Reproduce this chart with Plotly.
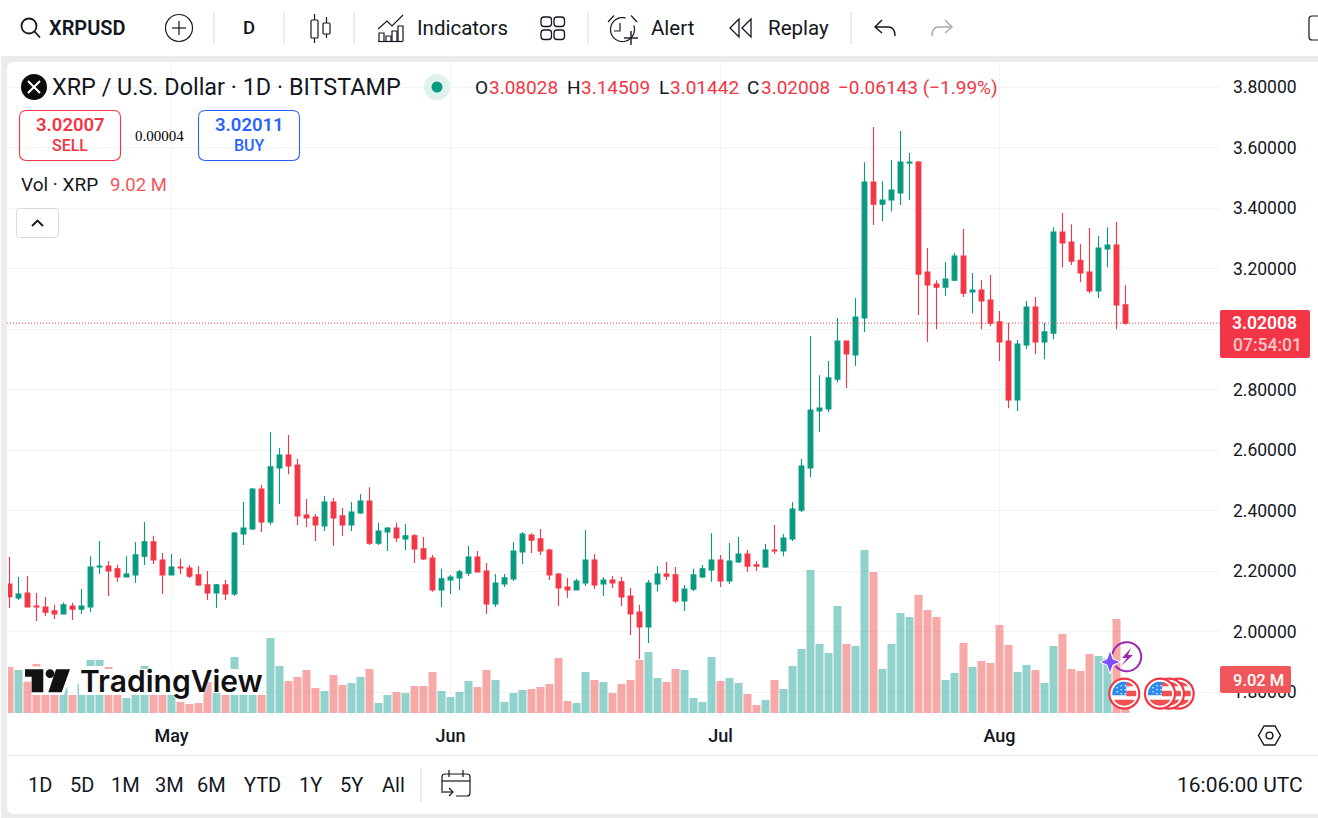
import math
import pandas as pd
import plotly.graph_objects as go

W, H = 1318, 818

first_day = "2025-04-13"
opens = [2.158,2.112,2.128,2.085,2.082,2.069,2.059,2.085,2.075,2.082,2.214,2.217,2.208,2.181,2.188,2.250,2.297,2.237,2.188,2.214,
 2.211,2.188,2.155,2.128,2.155,2.125,2.323,2.340,2.472,2.363,2.541,2.584,2.551,2.386,2.379,2.350,2.429,2.383,2.353,2.393,
 2.432,2.293,2.330,2.343,2.307,2.317,2.274,2.244,2.138,2.171,2.178,2.194,2.247,2.201,2.092,2.158,2.175,2.264,2.320,2.307,
 2.270,2.191,2.148,2.138,2.161,2.237,2.158,2.171,2.165,2.118,2.065,2.016,2.158,2.191,2.188,2.102,2.141,2.181,2.204,2.237,
 2.168,2.231,2.257,2.221,2.214,2.270,2.267,2.307,2.402,2.541,2.730,2.736,2.835,2.961,2.915,3.037,3.486,3.413,3.427,3.450,
 3.549,3.552,3.189,3.149,3.139,3.162,3.242,3.123,3.129,3.096,3.024,2.961,2.766,2.948,3.073,2.958,2.987,3.321,3.288,3.228,
 3.189,3.126,3.265,3.278,3.08028]
highs = [2.247,2.181,2.184,2.128,2.115,2.089,2.097,2.095,2.141,2.250,2.300,2.234,2.221,2.250,2.297,2.363,2.317,2.260,2.257,2.241,
 2.221,2.217,2.201,2.158,2.171,2.330,2.429,2.475,2.485,2.660,2.607,2.650,2.571,2.439,2.389,2.449,2.442,2.409,2.429,2.455,
 2.478,2.360,2.346,2.360,2.356,2.323,2.313,2.254,2.208,2.188,2.204,2.284,2.267,2.227,2.191,2.191,2.297,2.330,2.326,2.340,
 2.274,2.194,2.178,2.175,2.336,2.257,2.181,2.184,2.181,2.145,2.089,2.171,2.217,2.231,2.214,2.155,2.208,2.221,2.326,2.254,
 2.293,2.313,2.270,2.234,2.290,2.353,2.323,2.429,2.571,2.977,2.848,2.895,3.037,2.961,3.103,3.552,3.668,3.489,3.559,3.655,
 3.582,3.556,3.268,3.162,3.222,3.252,3.331,3.186,3.162,3.179,3.060,3.020,2.964,3.093,3.106,3.020,3.337,3.384,3.347,3.281,
 3.334,3.308,3.337,3.354,3.14509]
lows = [2.079,2.105,2.082,2.036,2.052,2.042,2.059,2.039,2.059,2.065,2.191,2.118,2.165,2.181,2.161,2.221,2.224,2.125,2.188,2.191,
 2.178,2.151,2.105,2.079,2.105,2.118,2.287,2.336,2.330,2.353,2.422,2.521,2.353,2.346,2.300,2.333,2.284,2.317,2.333,2.389,
 2.287,2.287,2.267,2.297,2.270,2.227,2.237,2.132,2.082,2.125,2.138,2.184,2.198,2.059,2.082,2.148,2.168,2.224,2.260,2.254,
 2.171,2.085,2.112,2.138,2.151,2.141,2.118,2.145,2.085,1.989,1.910,1.963,2.132,2.171,2.095,2.069,2.135,2.178,2.165,2.148,
 2.158,2.227,2.198,2.201,2.211,2.257,2.250,2.300,2.396,2.511,2.660,2.726,2.825,2.806,2.878,2.991,3.344,3.357,3.390,3.410,
 3.427,3.047,2.958,3.000,3.110,3.159,3.106,3.053,3.000,3.010,2.895,2.739,2.730,2.934,2.918,2.901,2.967,3.205,3.212,3.156,
 3.119,3.103,3.205,3.000,3.01442]
closes = [2.116,2.125,2.082,2.082,2.065,2.059,2.089,2.075,2.085,2.214,2.217,2.201,2.181,2.191,2.254,2.297,2.237,2.188,2.214,2.211,
 2.184,2.155,2.128,2.155,2.125,2.326,2.343,2.472,2.363,2.545,2.584,2.548,2.383,2.376,2.353,2.429,2.376,2.353,2.396,2.432,
 2.293,2.333,2.343,2.310,2.317,2.274,2.241,2.138,2.175,2.181,2.198,2.247,2.198,2.092,2.161,2.178,2.267,2.323,2.303,2.267,
 2.188,2.145,2.138,2.168,2.237,2.155,2.171,2.161,2.115,2.059,2.016,2.161,2.191,2.184,2.102,2.141,2.188,2.208,2.237,2.168,
 2.234,2.257,2.217,2.217,2.270,2.267,2.310,2.406,2.548,2.733,2.739,2.839,2.961,2.918,3.040,3.486,3.413,3.427,3.460,3.552,
 3.552,3.182,3.146,3.139,3.166,3.242,3.119,3.129,3.093,3.020,2.958,2.766,2.951,3.073,2.958,2.991,3.321,3.285,3.225,3.186,
 3.126,3.268,3.278,3.080,3.02008]
volumes_m = [12.38,11.57,8.43,13.19,9.87,9.42,6.91,4.84,7.80,14.26,14.26,12.38,8.97,4.04,6.28,12.65,8.07,8.07,5.38,2.96,
 2.42,2.69,8.97,6.28,5.38,15.07,10.94,5.38,4.84,20.18,12.65,8.61,9.69,11.57,6.73,5.92,10.23,7.53,8.07,9.69,
 11.84,2.69,4.84,5.65,5.38,7.27,7.27,11.03,5.92,4.31,5.65,8.61,7.00,11.57,8.88,2.96,5.38,6.19,6.46,7.00,
 7.80,14.80,3.23,2.69,11.03,8.88,8.34,5.38,7.80,8.88,14.26,16.42,9.42,8.34,11.84,11.57,4.04,2.96,15.07,8.61,
 9.42,8.07,5.11,2.15,3.50,8.88,6.46,12.65,17.22,38.48,18.57,16.15,28.79,18.57,18.03,43.86,37.94,11.84,18.57,26.91,
 25.83,31.75,27.72,25.83,8.88,10.76,18.84,12.38,13.99,13.46,23.68,18.30,11.03,12.92,11.57,8.07,18.03,21.26,11.84,11.30,
 15.88,15.34,14.71,25.30,9.02]
month_ticks = ["2025-05-01", "2025-06-01", "2025-07-01", "2025-08-01"]
month_labels = ["May", "Jun", "Jul", "Aug"]
price_ticks = [1.8, 2.0, 2.2, 2.4, 2.6, 2.8, 3.0, 3.2, 3.4, 3.6, 3.8]
price_labels = ["1.80000", "2.00000", "2.20000", "2.40000", "2.60000", "2.80000", "", "3.20000", "3.40000", "3.60000", "3.80000"]
ranges = ["1D", "5D", "1M", "3M", "6M", "YTD", "1Y", "5Y", "All"]

dates = pd.date_range(first_day, periods=len(opens), freq="D")
RED, GREEN, INK, BLUE = "#F23645", "#089981", "#131722", "#2962FF"
FONT = "Roboto"

shapes, notes = [], []
def X(x): return x / W
def Y(y): return 1 - y / H
def path(d, line=None, fill=None, lw=1.5, layer="above"):
    out = []
    for tok in d:
        if isinstance(tok, str): out.append(tok)
        else: out.append(f"{X(tok[0]):.5f},{Y(tok[1]):.5f}")
    shapes.append(dict(type="path", xref="paper", yref="paper", path=" ".join(out), layer=layer,
                       fillcolor=fill or "rgba(0,0,0,0)",
                       line=dict(color=line or "rgba(0,0,0,0)", width=lw if line else 0)))
def poly(pts, **k):
    d = []
    for i, p in enumerate(pts):
        d += ["M" if i == 0 else "L", p]
    path(d + ["Z"], **k)
def pline(pts, **k):
    d = []
    for i, p in enumerate(pts):
        d += ["M" if i == 0 else "L", p]
    path(d, **k)
def circ(cx, cy, r, line=None, fill=None, lw=1.5, layer="above"):
    shapes.append(dict(type="circle", xref="paper", yref="paper", x0=X(cx-r), x1=X(cx+r), y0=Y(cy+r), y1=Y(cy-r),
                       layer=layer, fillcolor=fill or "rgba(0,0,0,0)",
                       line=dict(color=line or "rgba(0,0,0,0)", width=lw if line else 0)))
def rrect(x0, y0, x1, y1, r, **k):
    path(["M",(x0+r,y0),"L",(x1-r,y0),"Q",(x1,y0),(x1,y0+r),"L",(x1,y1-r),"Q",(x1,y1),(x1-r,y1),
          "L",(x0+r,y1),"Q",(x0,y1),(x0,y1-r),"L",(x0,y0+r),"Q",(x0,y0),(x0+r,y0),"Z"], **k)
def txt(x, y, s, size=16, color=INK, anchor="left", weight=400, family=FONT, shadow=None):
    f = dict(size=size, color=color, family=family, weight=weight)
    if shadow: f["shadow"] = shadow
    notes.append(dict(x=X(x), y=Y(y), xref="paper", yref="paper", text=s, showarrow=False, xanchor=anchor,
                      yanchor="middle", font=f, borderpad=0, borderwidth=0))
def arc(cx, cy, r, a0, a1, n=24):
    return [(cx + r*math.cos(math.radians(a0+(a1-a0)*i/n)), cy + r*math.sin(math.radians(a0+(a1-a0)*i/n))) for i in range(n+1)]
def clip(cx, cy, r, x0, x1, y0, y1):
    pts = arc(cx, cy, r, 0, 360, 48)[:-1]
    for axis, lim, keep_gt in ((0,x0,True),(0,x1,False),(1,y0,True),(1,y1,False)):
        new = []
        for i, p in enumerate(pts):
            q = pts[(i+1) % len(pts)]
            ip = (p[axis] >= lim) == keep_gt
            iq = (q[axis] >= lim) == keep_gt
            if ip: new.append(p)
            if ip != iq:
                t = (lim-p[axis])/(q[axis]-p[axis])
                new.append((p[0]+t*(q[0]-p[0]), p[1]+t*(q[1]-p[1])))
        pts = new
    return pts

# frame
shapes.append(dict(type="rect", xref="paper", yref="paper", x0=X(1), x1=1, y0=0, y1=Y(56), layer="below",
                   fillcolor="#EBEBEB", line=dict(width=0)))
rrect(7, 62, 1330, 814, 7, fill="#FFFFFF", layer="below")
pline([(7, 755.5), (1318, 755.5)], line="#E9E9E9", lw=1.2)

# price line
shapes.append(dict(type="line", xref="paper", yref="y", x0=X(7), x1=X(1220), y0=closes[-1], y1=closes[-1],
                   line=dict(color=RED, width=1, dash="1px,2px"), layer="above"))

# watermark mask + logo
poly([(23,666.5),(73,666.5),(64,695),(32,695),(32,681),(23,681)], fill="#FFFFFF")
poly([(79,666),(104,666),(104,669),(262,669),(262,695),(221,695),(221,693),(212,693),(212,682),(208,682),(203,695),(79,695)], fill="#FFFFFF")
poly([(25,669.3),(43.3,669.3),(43.3,692.3),(31.7,692.3),(31.7,676.7),(25,676.7)], fill="#111111")
circ(50, 673.6, 4.4, fill="#111111")
poly([(56,669.3),(70,669.3),(61.7,692.3),(48.3,692.3)], fill="#111111")
txt(79.5, 681, "TradingView", size=30, color="#111111", weight=600, family="Inter", shadow="0 0 3px #fff")

# toolbar
circ(29, 26, 7.5, line=INK, lw=1.8)
pline([(34.5,31.5),(40,37.5)], line=INK, lw=1.8)
txt(49, 28, "XRPUSD", 20, INK, weight=600)
circ(179, 28, 13.5, line=INK, lw=1.2)
pline([(172,28),(186,28)], line=INK, lw=1.2); pline([(179,21),(179,35)], line=INK, lw=1.2)
for sx in (214, 284, 354, 588, 851):
    pline([(sx,12),(sx,44)], line="#E6E6E6", lw=1.5)
txt(249, 28, "D", 18.5, INK, "center", weight=500)
rrect(311,20,318,38,1, line=INK, lw=1.2); pline([(314.5,14),(314.5,20)], line=INK, lw=1.2); pline([(314.5,38),(314.5,43)], line=INK, lw=1.2)
rrect(323,23,330,34,1, line=INK, lw=1.2); pline([(326.5,17),(326.5,23)], line=INK, lw=1.2); pline([(326.5,34),(326.5,38)], line=INK, lw=1.2)
pline([(378,29),(387,21),(392,26),(403,15)], line=INK, lw=1.2)
for bx, by in ((379,33),(386,36),(392,31),(398,26)):
    pline([(bx,41),(bx,by),(bx+5,by),(bx+5,41)], line=INK, lw=1.2)
pline([(378,41.5),(403,41.5)], line=INK, lw=1.2)
txt(417, 28, "Indicators", 20.5, INK, weight=400)
for gx, gy in ((541,17),(554,17),(541,30),(554,30)):
    rrect(gx, gy, gx+10.5, gy+9.5, 3, line=INK, lw=1.3)
pline(arc(622.5,29.5,12,-20,285,36), line=INK, lw=1.2)
pline([(620,23),(620,31),(614,31)], line=INK, lw=1.2)
pline([(608,22),(614,15.5)], line=INK, lw=1.2); pline([(631,15.5),(637,22)], line=INK, lw=1.2)
pline([(624,38),(638,38)], line=INK, lw=1.4); pline([(631,31),(631,45)], line=INK, lw=1.4)
txt(651, 28, "Alert", 20.5, INK, weight=400)
poly([(739,19),(730,28),(739,37)], line=INK, lw=1.3); poly([(751,19),(742,28),(751,37)], line=INK, lw=1.3)
txt(768, 28, "Replay", 20.5, INK, weight=400)
pline([(882,20),(875,27),(882,33)], line=INK, lw=1.4)
path(["M",(875,27),"L",(888,27),"Q",(895,27),(895,36)], line=INK, lw=1.4)
pline([(945,20),(952,27),(945,33)], line="#A8A8A8", lw=1.4)
path(["M",(952,27),"L",(939,27),"Q",(932,27),(932,36)], line="#A8A8A8", lw=1.4)
rrect(1309,16,1330,40,3, line=INK, lw=1.2)

# legend row
circ(34, 87, 13, fill="#0B0B0B")
pline([(28,81),(34,87),(40,81)], line="#FFFFFF", lw=2)
pline([(28,93),(34,87),(40,93)], line="#FFFFFF", lw=2)
txt(52, 87, "XRP / U.S. Dollar · 1D · BITSTAMP", 23.4, INK, weight=400)
circ(437, 87, 13, fill="#DFF2EE"); circ(437, 87, 5.5, fill=GREEN)
for x, s in ((475,"O"),(567,"H"),(659,"L"),(747,"C")):
    txt(x, 87, s, 19, INK)
for x, s in ((489,"3.08028"),(581,"3.14509"),(670,"3.01442"),(761,"3.02008"),(838,"−0.06143 (−1.99%)")):
    txt(x, 87, s, 19, RED)
rrect(19.5,110.5,120.5,160.5,7, line=RED, lw=1.1)
rrect(198.5,110.5,299.5,160.5,7, line=BLUE, lw=1.1)
txt(70.5, 125, "3.02007", 18.5, RED, "center", weight=600); txt(70, 145, "SELL", 16, RED, "center", weight=500)
txt(249, 125, "3.02011", 18.5, BLUE, "center", weight=600); txt(249, 145, "BUY", 16, BLUE, "center", weight=500)
txt(159.5, 136, "0.00004", 15, "#000000", "center", family="Liberation Serif")
txt(21, 185, "Vol · XRP", 19, INK)
txt(110, 185, "9.02 M", 18.5, "#F0575A")
rrect(16.5,208.5,58.5,237.5,3, line="#DADADA", lw=1)
pline([(32,226),(37.5,220.5),(43,226)], line=INK, lw=1.8)

# price / volume tags
rrect(1220,310,1310,358,2, fill=RED)
txt(1264.5, 323, "3.02008", 17.5, "#FFFFFF", "center", weight=600)
txt(1267, 345, "07:54:01", 17.5, "rgba(255,255,255,0.72)", "center", weight=500)
rrect(1220,666,1291,693,2, fill="#F0575A")
txt(1258.5, 680, "9.02 M", 16.5, "#FFFFFF", "center", weight=500)

# event markers
for cx in (1178.7, 1169, 1160, 1124.3):
    cy = 693.7
    circ(cx, cy, 15, line=RED, fill="#FFFFFF", lw=2.2)
    poly(clip(cx,cy,12,cx+2,cx+12,cy-3,cy+2.5), fill="#F0504F")
    poly(clip(cx,cy,12,cx+2,cx+12,cy-12,cy-7.5), fill="#F0504F")
    poly(clip(cx,cy,12,cx-12,cx+12,cy+6,cy+12), fill="#F0504F")
    poly(clip(cx,cy,12,cx-12,cx+2,cy-12,cy+1.5), fill="#2B8CEE")
    for dx, dy in ((-7,-6),(-3,-8),(1,-8),(-7,-2),(-3,-4),(1,-4),(-3,0),(1,0)):
        circ(cx+dx, cy+dy, 0.8, fill="#FFFFFF")
pline(arc(1126.7,656.7,14.5,-170,140,40), line="#9C27B0", lw=2)
poly([(1131,648),(1122,658),(1127,658),(1121,666),(1133,655),(1128,655)], fill="#9C27B0")
poly([(1110,650),(1113,659),(1121,662),(1113,665),(1110,674),(1107,665),(1100,662),(1107,659)], fill="#7C4DFF", line="#FFFFFF", lw=1)

# bottom bar
for cx, s in zip((40,82,125,169,212,262,310,351,393), ranges):
    txt(cx, 785, s, 20, INK, "center", weight=400)
pline([(421,768),(421,802)], line="#E6E6E6", lw=1.5)
path(["M",(442,791),"L",(442,777),"Q",(442,774),(445,774),"L",(467,774),"Q",(470,774),(470,777),"L",(470,793),"Q",(470,796),(467,796),"L",(456,796)], line=INK, lw=1.2)
pline([(442,781),(470,781)], line=INK, lw=1.2)
pline([(449,770),(449,777)], line=INK, lw=1.2); pline([(463,770),(463,777)], line=INK, lw=1.2)
pline([(441,792),(453,792)], line=INK, lw=1.2); pline([(449,788),(453,792),(449,796)], line=INK, lw=1.2)
txt(1303, 785, "16:06:00 UTC", 21, INK, "right")
poly(arc(1269.5,735.5,11,0,360,6)[:-1], line=INK, lw=1.4)
circ(1269.5, 735.5, 3.4, line=INK, lw=1.4)

vol_colors = ["rgba(38,166,154,0.5)" if c >= o else "rgba(239,83,80,0.5)" for o, c in zip(opens, closes)]
fig = go.Figure()
fig.add_trace(go.Candlestick(x=dates, open=opens, high=highs, low=lows, close=closes, yaxis="y", xaxis="x",
    increasing=dict(line=dict(color=GREEN, width=1.1), fillcolor=GREEN),
    decreasing=dict(line=dict(color=RED, width=1.1), fillcolor=RED),
    whiskerwidth=0, hoverinfo="skip", showlegend=False))
fig.add_trace(go.Bar(x=dates, y=volumes_m, yaxis="y2", marker=dict(color=vol_colors, line=dict(width=0)),
    hoverinfo="skip", showlegend=False))
fig.update_layout(
    width=W, height=H, margin=dict(l=0, r=0, t=0, b=0, pad=0), autosize=False,
    paper_bgcolor="#FFFFFF", plot_bgcolor="rgba(0,0,0,0)", showlegend=False, hovermode=False,
    bargap=0.11, boxgap=0.24, dragmode=False,
    font=dict(family=FONT, color=INK),
    xaxis=dict(domain=[X(8), X(1219)], type="date", range=["2025-04-12 20:00", "2025-08-25 09:20"],
        tickvals=month_ticks, ticktext=month_labels, showgrid=True, gridcolor="#F2F3F3", gridwidth=1,
        rangeslider=dict(visible=False), showline=False, zeroline=False, ticks="", ticklabelstandoff=4,
        tickfont=dict(size=18, color=INK, family=FONT, weight=500)),
    yaxis=dict(domain=[Y(719), Y(62)], side="right", range=[1.7118, 3.8829], tickvals=price_ticks, ticktext=price_labels,
        showgrid=True, gridcolor="#F2F3F3", gridwidth=1, zeroline=False, showline=False,
        ticks="", ticklabelstandoff=13, tickfont=dict(size=17.5, color=INK, family=FONT), fixedrange=True),
    yaxis2=dict(domain=[Y(719), Y(62)], overlaying="y", side="right", range=[-1.614, 175.1], visible=False,
        showgrid=False, zeroline=False, fixedrange=True),
    shapes=shapes, annotations=notes,
)
fig.write_html("out.html", config=dict(displayModeBar=False, staticPlot=True),
               post_script="document.body.style.margin='0';document.body.style.overflow='hidden';")
